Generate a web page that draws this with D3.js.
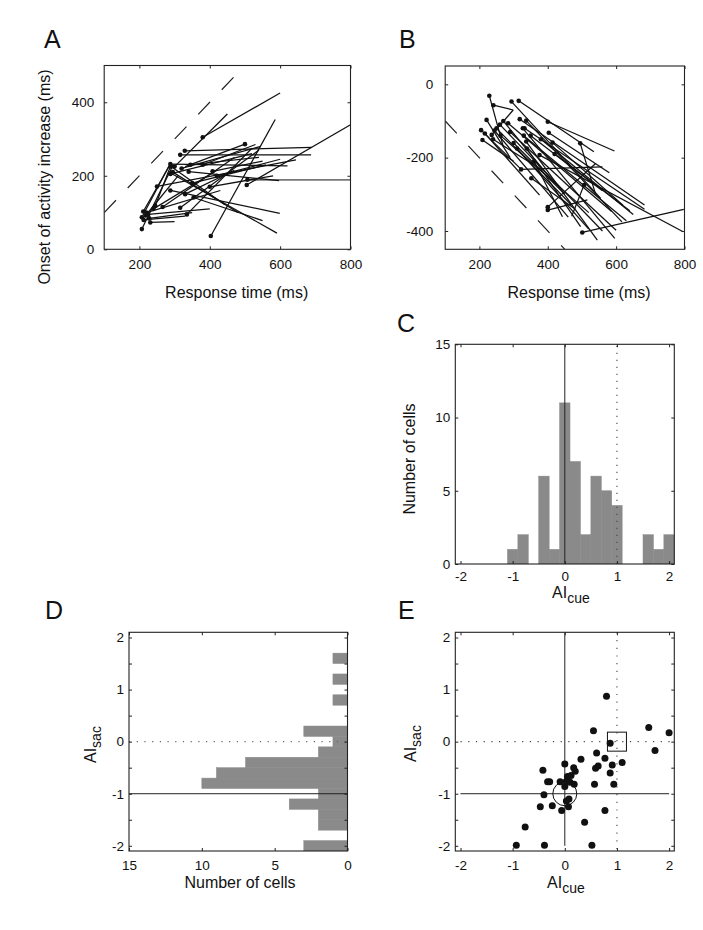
<!DOCTYPE html>
<html><head><meta charset="utf-8">
<script src="https://cdn.jsdelivr.net/npm/d3@7"></script>
<style>
body{margin:0;background:#fff;}
svg text{font-family:"Liberation Sans",Arial,Helvetica,sans-serif;fill:#111;}
.tick text{font-size:13.5px;}
.tick line{stroke:#222;stroke-width:1;}
</style></head><body>
<svg id="fig" width="703" height="930"></svg>
<script>
// ---------- DATA ----------
// Panel A: [RT at dot, onset at dot, RT at other end, onset at other end] (ms)
const onsetSegments = [
  [380,305,600,425],[403,36,586,353],[505,175,800,339],[329,268,690,277],
  [316,257,688,257],[288,232,621,227],[340,211,597,187],[288,160,599,98],
  [354,141,550,78],[290,207,591,44],[300,225,450,368],[500,286,330,225],
  [250,171,645,243],[266,115,470,250],[245,118,290,230],[211,103,288,232],
  [207,87,285,228],[228,84,350,100],[231,73,300,75],[207,55,292,222],
  [212,80,330,90],[316,113,540,270],[335,95,520,275],[288,205,520,260],
  [320,220,545,280],[345,230,540,250],[408,212,550,240],[380,230,530,285],
  [290,225,443,121],[295,210,480,100],[225,95,400,110],[220,100,430,160],
  [240,110,420,215],[350,180,560,230],[400,170,580,200],[420,200,600,245],
  [330,150,470,215],[218,92,310,200]
];
const onsetSegmentsGray = [[507,189,800,189]];
// Panel B: [RT at dot, onset re saccade at dot, RT at other end, onset at other end] (ms)
const saccSegments = [
  [229,-31,270,-170],[241,-57,299,-70],[236,-138,299,-70],[294,-47,555,-311],
  [315,-45,535,-184],[400,-102,595,-182],[403,-132,580,-241],[221,-97,290,-200],
  [284,-106,587,-347],[318,-95,683,-329],[205,-125,320,-230],[216,-134,376,-302],
  [209,-152,300,-210],[332,-120,683,-341],[337,-99,617,-375],[327,-120,596,-420],
  [337,-156,545,-425],[339,-175,496,-388],[360,-210,443,-361],[414,-159,620,-330],
  [495,-161,540,-300],[322,-232,560,-225],[352,-256,480,-340],[400,-343,516,-315],
  [506,-275,470,-360],[400,-335,540,-216],[501,-404,798,-341],[376,-193,796,-402],
  [250,-120,470,-330],[262,-140,520,-350],[300,-160,450,-300],[240,-150,360,-220],
  [270,-100,420,-270],[350,-140,560,-290],[420,-190,640,-345],
  [260,-110,560,-400],[290,-130,600,-398],[330,-140,630,-372],[244,-126,460,-362],
  [310,-175,520,-395],[380,-150,650,-355]
];
// Panel C: histogram of AI_cue
const cueBinCenters = [-1.0,-0.8,-0.6,-0.4,-0.2,0.0,0.2,0.4,0.6,0.8,1.0,1.2,1.4,1.6,1.8,2.0];
const cueCounts     = [1,2,0,6,1,11,7,2,6,5,4,0,0,2,1,2];
// Panel D: histogram of AI_sac
const sacBinCenters = [1.6,1.4,1.2,1.0,0.8,0.6,0.4,0.2,0.0,-0.2,-0.4,-0.6,-0.8,-1.0,-1.2,-1.4,-1.6,-1.8,-2.0];
const sacCounts     = [1,0,1,0,1,0,0,3,1,2,7,9,10,2,4,2,2,0,3];
// Panel E: scatter AI_cue vs AI_sac
const aiCue = [0.80,0.55,1.61,2.00,1.73,0.87,0.61,0.77,0.31,0.59,0.64,0.91,1.10,0.87,0.57,0.94,0.00,0.17,0.20,0.12,0.05,0.03,-0.09,0.10,0.18,-0.29,-0.33,-0.42,-0.40,0.00,0.03,0.08,0.07,-0.06,-0.24,-0.47,-0.76,-0.93,-0.39,0.38,0.52,0.77];
const aiSac = [0.87,0.21,0.27,0.17,-0.17,-0.03,-0.22,-0.32,-0.34,-0.51,-0.47,-0.45,-0.40,-0.60,-0.82,-0.82,-0.43,-0.50,-0.57,-0.65,-0.67,-0.76,-0.77,-0.78,-0.82,-0.77,-0.77,-0.55,-1.02,-0.86,-1.14,-1.10,-1.25,-1.32,-1.23,-1.25,-1.64,-1.99,-1.99,-1.55,-1.99,-1.32];
// ticks
const rtTicks = [200,400,600,800];
const onsetTicks = [0,200,400];
const sacOnsetTicks = [-400,-200,0];
const countTicks = [0,5,10,15];
const aiTicks = [-2,-1,0,1,2];
const aiMinorTicks = [-2,-1.5,-1,-0.5,0,0.5,1,1.5,2];

// ---------- DRAWING ----------
const svg = d3.select("#fig");
svg.append("rect").attr("width",703).attr("height",930).attr("fill","#fff");

function makePanel(id, box, xDom, yDom){
  const x = d3.scaleLinear().domain(xDom).range([box.l, box.r]);
  const y = d3.scaleLinear().domain(yDom).range([box.b, box.t]);
  svg.append("clipPath").attr("id","clip"+id).append("rect")
    .attr("x",box.l).attr("y",box.t).attr("width",box.r-box.l).attr("height",box.b-box.t);
  const data = svg.append("g").attr("clip-path",`url(#clip${id})`);
  const axes = svg.append("g");
  return {x,y,box,data,axes};
}
function drawAxes(p, cfg){
  const {x,y,box} = p;
  const yVals = cfg.yAll || cfg.yTicks;
  const xVals = cfg.xAll || cfg.xTicks;
  const fy = v => cfg.yTicks.includes(v) ? String(v) : "";
  const fx = v => cfg.xTicks.includes(v) ? String(v) : "";
  const style = g => { g.select(".domain").remove(); g.attr("font-size",null).attr("font-family",null); };
  p.axes.append("g").attr("transform",`translate(0,${box.b})`)
    .call(d3.axisBottom(x).tickValues(xVals).tickSizeInner(-3).tickSizeOuter(0).tickPadding(cfg.xPad).tickFormat(fx)).call(style);
  p.axes.append("g").attr("transform",`translate(0,${box.t})`)
    .call(d3.axisTop(x).tickValues(xVals).tickSizeInner(-3).tickSizeOuter(0).tickFormat("")).call(style);
  p.axes.append("g").attr("transform",`translate(${box.l},0)`)
    .call(d3.axisLeft(y).tickValues(yVals).tickSizeInner(-3).tickSizeOuter(0).tickPadding(cfg.yPad).tickFormat(fy)).call(style);
  p.axes.append("g").attr("transform",`translate(${box.r},0)`)
    .call(d3.axisRight(y).tickValues(yVals).tickSizeInner(-3).tickSizeOuter(0).tickFormat("")).call(style);
  p.axes.append("rect").attr("x",box.l).attr("y",box.t).attr("width",box.r-box.l).attr("height",box.b-box.t)
    .attr("fill","none").attr("stroke","#222").attr("stroke-width",1.1);
}
function label(txt, x, y, size, opts={}){
  const t = svg.append("text").attr("x",x).attr("y",y).attr("font-size",size+"px")
    .attr("text-anchor",opts.anchor||"start");
  if(opts.rotate) t.attr("transform",`rotate(-90,${x},${y})`);
  t.text(txt);
  return t;
}
function subLabel(main, sub, x, y, opts={}){
  const t = svg.append("text").attr("x",x).attr("y",y).attr("font-size","16px").attr("text-anchor","start");
  if(opts.rotate) t.attr("transform",`rotate(-90,${x},${y})`);
  t.append("tspan").text(main);
  t.append("tspan").attr("dy",5).attr("font-size","14px").text(sub);
}

// ---- Panel A ----
const A = makePanel("A",{l:104.2,r:350.5,t:65.5,b:249.3},[100,800],[0,500]);
A.data.append("line").attr("x1",A.x(100)).attr("y1",A.y(100)).attr("x2",A.x(500)).attr("y2",A.y(500))
  .attr("stroke","#222").attr("stroke-width",1.2).attr("stroke-dasharray","17,17");
A.data.selectAll(".gseg").data(onsetSegmentsGray).join("line")
  .attr("x1",d=>A.x(d[0])).attr("y1",d=>A.y(d[1])).attr("x2",d=>A.x(d[2])).attr("y2",d=>A.y(d[3]))
  .attr("stroke","#777").attr("stroke-width",1.7);
A.data.selectAll(".seg").data(onsetSegments).join("line")
  .attr("x1",d=>A.x(d[0])).attr("y1",d=>A.y(d[1])).attr("x2",d=>A.x(d[2])).attr("y2",d=>A.y(d[3]))
  .attr("stroke","#111").attr("stroke-width",1.25);
A.data.selectAll(".dot").data(onsetSegments.concat(onsetSegmentsGray)).join("circle")
  .attr("cx",d=>A.x(d[0])).attr("cy",d=>A.y(d[1])).attr("r",2.3).attr("fill","#111");
drawAxes(A,{xTicks:rtTicks,yTicks:onsetTicks,xPad:10.5,yPad:10});
label("A",44,48,25);
label("Response time (ms)",236.7,298,16,{anchor:"middle"});
label("Onset of activity increase (ms)",50,177,16,{anchor:"middle",rotate:true});

// ---- Panel B ----
const B = makePanel("B",{l:445.2,r:684.5,t:66,b:249.3},[100,800],[-450,50]);
B.data.append("line").attr("x1",B.x(100)).attr("y1",B.y(-100)).attr("x2",B.x(450)).attr("y2",B.y(-450))
  .attr("stroke","#222").attr("stroke-width",1.2).attr("stroke-dasharray","17,17");
B.data.selectAll(".seg").data(saccSegments).join("line")
  .attr("x1",d=>B.x(d[0])).attr("y1",d=>B.y(d[1])).attr("x2",d=>B.x(d[2])).attr("y2",d=>B.y(d[3]))
  .attr("stroke","#111").attr("stroke-width",1.25);
B.data.selectAll(".dot").data(saccSegments).join("circle")
  .attr("cx",d=>B.x(d[0])).attr("cy",d=>B.y(d[1])).attr("r",2.3).attr("fill","#111");
drawAxes(B,{xTicks:rtTicks,yTicks:sacOnsetTicks,xPad:10.5,yPad:12});
label("B",399,48,25);
label("Response time (ms)",579,298,16,{anchor:"middle"});

// ---- Panel C ----
const C = makePanel("C",{l:455.3,r:674.3,t:344.3,b:564},[-2.1,2.1],[0,15]);
const binW = 0.2;
C.data.selectAll(".bar").data(cueBinCenters.map((c,i)=>({c,n:cueCounts[i]})).filter(d=>d.n>0)).join("rect")
  .attr("x",d=>C.x(d.c-binW/2)).attr("width",d=>C.x(d.c+binW/2)-C.x(d.c-binW/2))
  .attr("y",d=>C.y(d.n)).attr("height",d=>C.y(0)-C.y(d.n)).attr("fill","#8a8a8a").attr("stroke","#8a8a8a").attr("stroke-width",0.5);
C.data.append("line").attr("x1",C.x(0)).attr("x2",C.x(0)).attr("y1",C.y(0)).attr("y2",C.y(15))
  .attr("stroke","#222").attr("stroke-width",1);
C.data.append("line").attr("x1",C.x(1)).attr("x2",C.x(1)).attr("y1",C.y(0)).attr("y2",C.y(15))
  .attr("stroke","#444").attr("stroke-width",1.1).attr("stroke-dasharray","1.2,5.8");
drawAxes(C,{xTicks:aiTicks,yTicks:countTicks,xPad:7,yPad:5});
label("C",397,331.5,25);
label("Number of cells",415,459,16,{anchor:"middle",rotate:true});
subLabel("AI","cue",552,598);

// ---- Panel D ----
const D = makePanel("D",{l:129,r:347.5,t:632.3,b:851},[15,0],[-2.1,2.1]);
D.data.selectAll(".bar").data(sacBinCenters.map((c,i)=>({c,n:sacCounts[i]})).filter(d=>d.n>0)).join("rect")
  .attr("x",d=>D.x(d.n)).attr("width",d=>D.x(0)-D.x(d.n))
  .attr("y",d=>D.y(d.c+binW/2)).attr("height",d=>D.y(d.c-binW/2)-D.y(d.c+binW/2))
  .attr("fill","#8a8a8a").attr("stroke","#8a8a8a").attr("stroke-width",0.5);
D.data.append("line").attr("x1",D.x(15)).attr("x2",D.x(0)).attr("y1",D.y(-1)).attr("y2",D.y(-1))
  .attr("stroke","#222").attr("stroke-width",1);
D.data.append("line").attr("x1",D.x(15)).attr("x2",D.x(0)).attr("y1",D.y(0)).attr("y2",D.y(0))
  .attr("stroke","#666").attr("stroke-width",1.1).attr("stroke-dasharray","1.2,6.5");
drawAxes(D,{xTicks:[15,10,5,0],yTicks:aiTicks,yAll:aiMinorTicks,xPad:9,yPad:5});
label("D",45,619,25);
label("Number of cells",240,888,16,{anchor:"middle"});
subLabel("AI","sac",96,763,{rotate:true});

// ---- Panel E ----
const E = makePanel("E",{l:455.3,r:674.3,t:632.3,b:851},[-2.1,2.1],[-2.1,2.1]);
E.data.append("line").attr("x1",E.x(0)).attr("x2",E.x(0)).attr("y1",E.y(2.1)).attr("y2",E.y(-2))
  .attr("stroke","#222").attr("stroke-width",1);
E.data.append("line").attr("x1",E.x(-2)).attr("x2",E.x(2)).attr("y1",E.y(-1)).attr("y2",E.y(-1))
  .attr("stroke","#222").attr("stroke-width",1);
E.data.append("line").attr("x1",E.x(1)).attr("x2",E.x(1)).attr("y1",E.y(2.1)).attr("y2",E.y(-2.1))
  .attr("stroke","#444").attr("stroke-width",1.1).attr("stroke-dasharray","1.2,6.5");
E.data.append("line").attr("x1",E.x(-2)).attr("x2",E.x(2.1)).attr("y1",E.y(0)).attr("y2",E.y(0))
  .attr("stroke","#444").attr("stroke-width",1.1).attr("stroke-dasharray","1.2,6.5");
E.data.selectAll(".pt").data(aiCue.map((c,i)=>[c,aiSac[i]])).join("circle")
  .attr("cx",d=>E.x(d[0])).attr("cy",d=>E.y(d[1])).attr("r",3.5).attr("fill","#111");
E.data.append("circle").attr("cx",E.x(0)).attr("cy",E.y(-1)).attr("r",12)
  .attr("fill","none").attr("stroke","#111").attr("stroke-width",1);
E.data.append("rect").attr("x",E.x(1)-9.5).attr("y",E.y(0)-9.5).attr("width",19).attr("height",19)
  .attr("fill","none").attr("stroke","#111").attr("stroke-width",1);
drawAxes(E,{xTicks:aiTicks,yTicks:aiTicks,yAll:aiMinorTicks,xPad:9,yPad:5});
label("E",398,619,25);
subLabel("AI","cue",547,888);
subLabel("AI","sac",416,762,{rotate:true});
</script>
</body></html>
